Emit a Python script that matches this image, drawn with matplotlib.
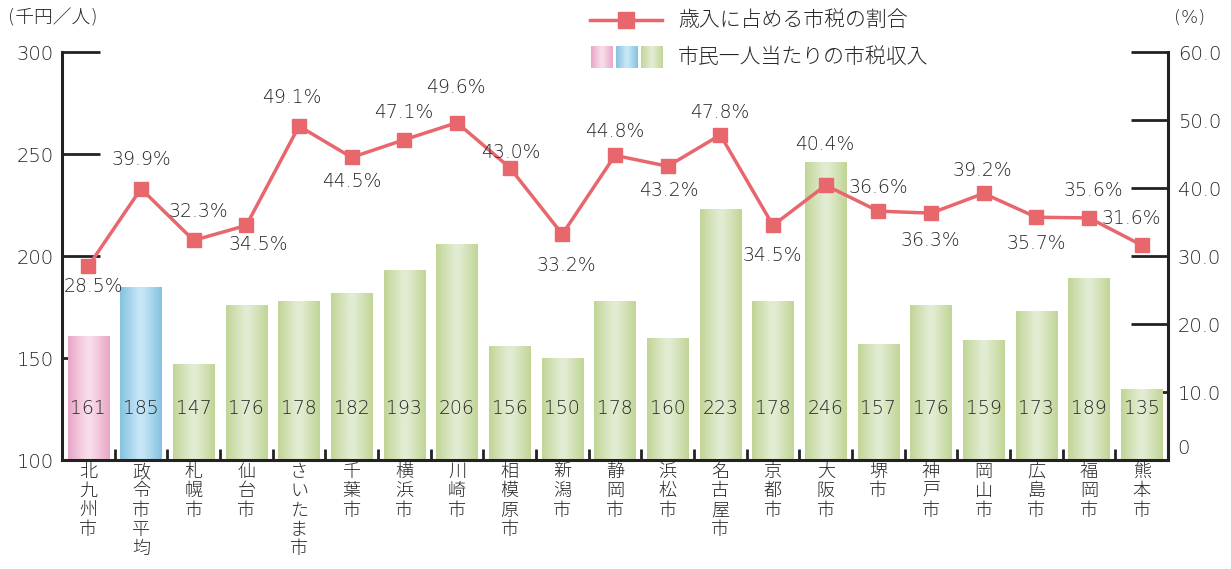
import numpy as np
import matplotlib
matplotlib.use("Agg")
import matplotlib.pyplot as plt
from matplotlib.colors import LinearSegmentedColormap
from matplotlib.lines import Line2D
import matplotlib.transforms as mtransforms

plt.rcParams['font.family'] = ['DejaVu Sans', 'Noto Sans CJK JP']

cities = ["北九州市", "政令市平均", "札幌市", "仙台市", "さいたま市", "千葉市", "横浜市", "川崎市",
          "相模原市", "新潟市", "静岡市", "浜松市", "名古屋市", "京都市", "大阪市", "堺市",
          "神戸市", "岡山市", "広島市", "福岡市", "熊本市"]
income = [161, 185, 147, 176, 178, 182, 193, 206, 156, 150, 178, 160, 223, 178, 246, 157,
          176, 159, 173, 189, 135]
ratio = [28.5, 39.9, 32.3, 34.5, 49.1, 44.5, 47.1, 49.6, 43.0, 33.2, 44.8, 43.2, 47.8, 34.5,
         40.4, 36.6, 36.3, 39.2, 35.7, 35.6, 31.6]
left_ticks = [100, 150, 200, 250, 300]
right_ticks = [0, 10, 20, 30, 40, 50, 60]
right_labels = ["0", "10.0", "20.0", "30.0", "40.0", "50.0", "60.0"]

# label offsets in pixels (dx, dy) for the percentage labels
label_offsets = [(5, -20), (0, 29), (5, 29), (12, -19), (-7, 29), (0, -24), (-1, 27),
                 (-1, 35), (1, 15), (4, -31), (0, 24), (1, -24), (-1, 22), (-1, -30),
                 (-1, 41), (0, 24), (-1, -27), (-1, 23), (0, -26), (4, 27), (-10, 27)]

TXT = '#262626'
AXC = '#222222'
LINE_C = '#e8676d'
W = 200  # light text weight
grad = {
    'pink': ('#e8a6c6', '#f9dcea'),
    'blue': ('#84c2e0', '#c6e6f7'),
    'green': ('#c1d596', '#e2ecd2'),
}
bar_kind = ['pink', 'blue'] + ['green'] * (len(cities) - 2)

gx = np.linspace(0, 1, 256)
gimg = np.vstack([gx, gx])
def make_cmap(edge, center):
    return LinearSegmentedColormap.from_list('g', list(zip([0, 0.45, 0.55, 1], [edge, center, center, edge])))

fig = plt.figure(figsize=(12.31, 5.69), dpi=100)
rect = [62/1231, 1 - 460/569, (1168-62)/1231, (460-52)/569]

# right tick axis (behind bars)
ax2 = fig.add_axes(rect, zorder=0)
ax = fig.add_axes(rect, zorder=1)
ax3 = fig.add_axes(rect, zorder=2)
ax.patch.set_visible(False)
ax3.patch.set_visible(False)

x = np.arange(len(cities))
bw = 0.78
bars = ax.bar(x, income, width=bw, color='none', edgecolor='none', zorder=2.6)
for b, kind in zip(bars, bar_kind):
    edge, center = grad[kind]
    im = ax.imshow(gimg, cmap=make_cmap(edge, center), aspect='auto',
                   extent=[b.get_x(), b.get_x() + b.get_width(), 100, b.get_height()],
                   zorder=2.6, interpolation='bilinear')
    im.set_clip_path(b)
for xi, v in zip(x, income):
    ax.text(xi, 125, f"{v}", ha='center', va='center', fontsize=13.5, color=TXT,
            zorder=5, fontweight=W)

ax.set_xlim(-0.5, len(cities) - 0.5)
ax.set_ylim(100, 300)
ax.set_yticks(left_ticks)
ax.set_yticklabels([str(t) for t in left_ticks], fontsize=14, color=TXT, fontweight=W)
ax.tick_params(axis='y', direction='in', length=27, width=2, pad=6, colors=AXC, labelcolor=TXT)
ax.set_xticks(x)
ax.set_xticklabels(['\n'.join(c) for c in cities], fontsize=13, color=TXT,
                   linespacing=1.1, va='top', fontweight=W)
ax.tick_params(axis='x', length=0, pad=2)
ax.set_xticks(x[:-1] + 0.5, minor=True)
ax.tick_params(axis='x', which='minor', direction='in', length=8, width=2, colors=AXC)
for s in ['left', 'bottom', 'right']:
    ax.spines[s].set_linewidth(2.2)
    ax.spines[s].set_color(AXC)
    ax.spines[s].set_zorder(4)
ax.spines['top'].set_visible(False)

ax2.set_xlim(-0.5, len(cities) - 0.5)
ax2.set_ylim(0, 60)
ax2.yaxis.tick_right()
ax2.set_xticks([])
ax2.set_yticks(right_ticks)
ax2.set_yticklabels(right_labels, fontsize=14, color=TXT, fontweight=W)
ax2.tick_params(axis='y', direction='in', length=27, width=2, pad=7, colors=AXC, labelcolor=TXT)
for s in ax2.spines.values():
    s.set_visible(False)
lbl0 = ax2.get_yticklabels()[0]
lbl0.set_transform(lbl0.get_transform() + mtransforms.ScaledTranslation(0, 13/100, fig.dpi_scale_trans))

ax3.set_xlim(-0.5, len(cities) - 0.5)
ax3.set_ylim(0, 60)
ax3.axis('off')
ax3.plot(x, ratio, color=LINE_C, lw=2.5, marker='s', markersize=10.5, zorder=4,
         markeredgecolor=LINE_C)
for xi, r, (dx, dy) in zip(x, ratio, label_offsets):
    ax3.annotate(f"{r:.1f}%", (xi, r), xytext=(dx, dy), textcoords='offset pixels',
                 ha='center', va='center', fontsize=13.5, color=TXT, zorder=6, fontweight=W)

fig.text(8/1231, 1 - 18/569, "(千円／人)", fontsize=13.5, color=TXT, ha='left', va='center',
         fontweight=W)
fig.text(1174/1231, 1 - 18/569, "(%)", fontsize=13, color=TXT, ha='left', va='center',
         fontweight=W)

# legend
ly1 = 1 - 20/569
fig.add_artist(Line2D([590/1231, 662/1231], [ly1, ly1], color=LINE_C, lw=2.5,
                      transform=fig.transFigure))
fig.add_artist(Line2D([626/1231], [ly1], color=LINE_C, marker='s', markersize=12,
                      transform=fig.transFigure))
fig.text(678/1231, ly1, "歳入に占める市税の割合", fontsize=15, color=TXT, ha='left', va='center',
         fontweight=W)
ly2 = 1 - 57/569
for i, kind in enumerate(['pink', 'blue', 'green']):
    edge, center = grad[kind]
    sax = fig.add_axes([(591 + i * 25) / 1231, ly2 - 11/569, 22/1231, 22/569])
    sax.imshow(gimg, cmap=make_cmap(edge, center), aspect='auto', interpolation='bilinear')
    sax.axis('off')
fig.text(678/1231, ly2, "市民一人当たりの市税収入", fontsize=15, color=TXT, ha='left', va='center',
         fontweight=W)

fig.savefig("out.png", dpi=100, facecolor='white')
